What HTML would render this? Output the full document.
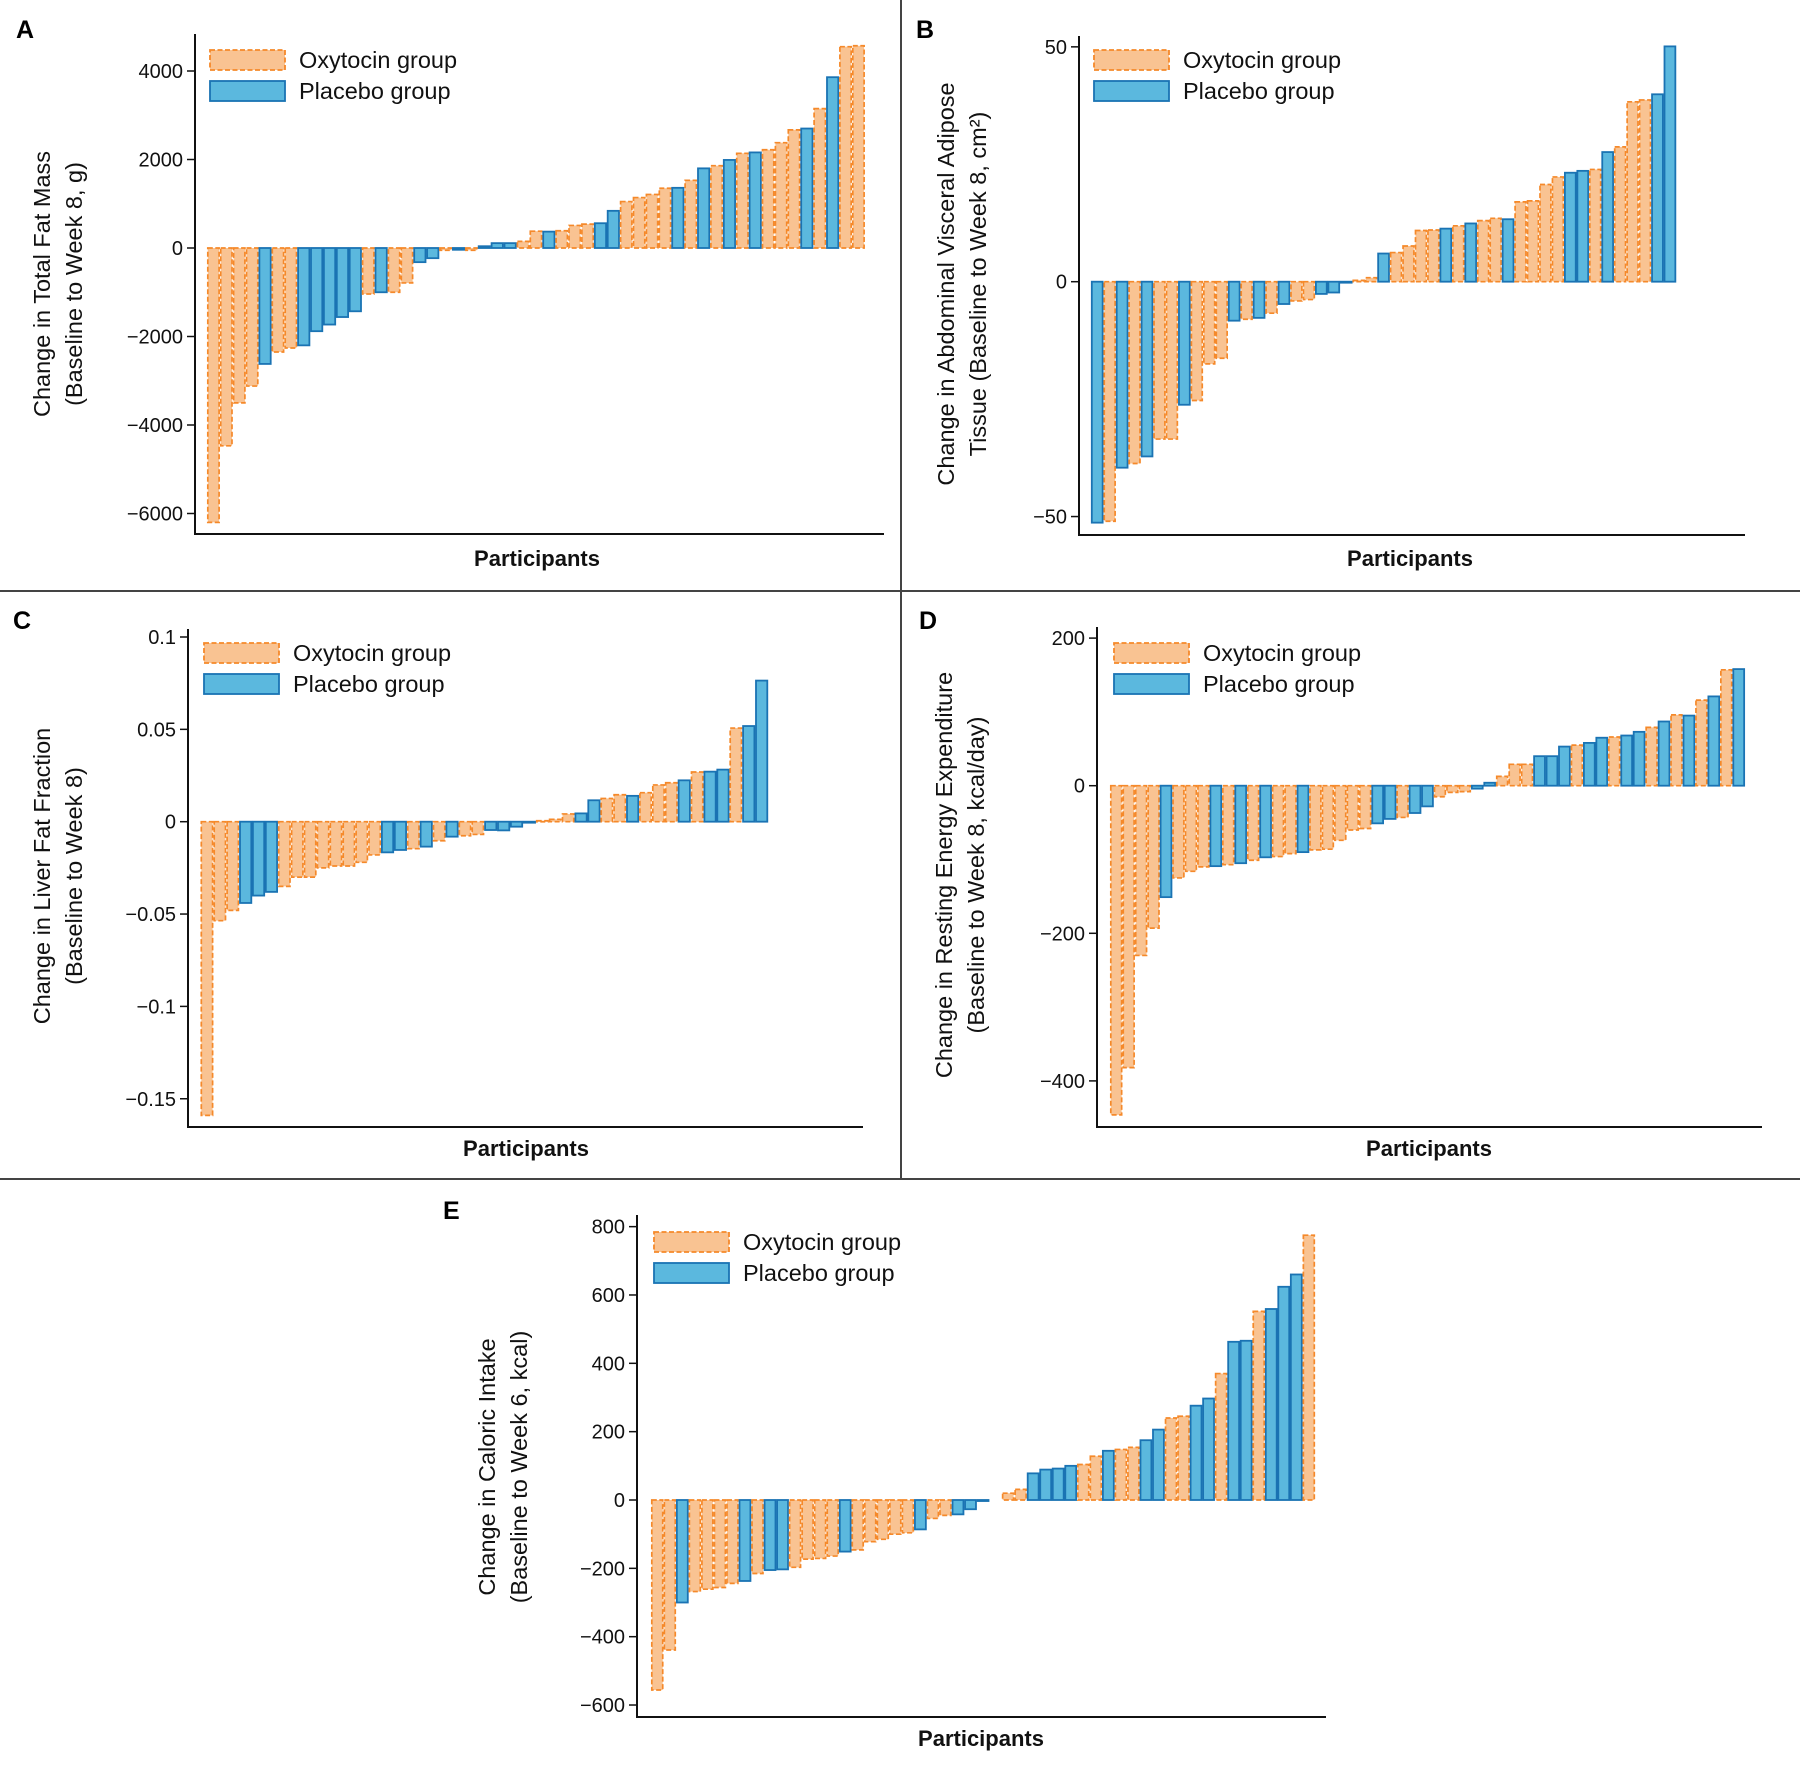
<!DOCTYPE html>
<html><head><meta charset="utf-8">
<style>
html,body{margin:0;padding:0;background:#fff;}
svg{display:block;font-family:"Liberation Sans",sans-serif;}
</style></head>
<body>
<svg id="fig" width="1800" height="1787" viewBox="0 0 1800 1787" xmlns="http://www.w3.org/2000/svg">
<rect width="1800" height="1787" fill="#fff"/>
<line x1="901" y1="0" x2="901" y2="1179" stroke="#444" stroke-width="2"/>
<line x1="0" y1="591" x2="1800" y2="591" stroke="#444" stroke-width="2"/>
<line x1="0" y1="1179" x2="1800" y2="1179" stroke="#444" stroke-width="2"/>
<text x="16" y="38" font-size="25" font-weight="bold">A</text>
<text x="916" y="38" font-size="25" font-weight="bold">B</text>
<text x="13" y="629" font-size="25" font-weight="bold">C</text>
<text x="919" y="629" font-size="25" font-weight="bold">D</text>
<text x="443" y="1219" font-size="25" font-weight="bold">E</text>
</svg>
<script>
// Panel A: total fat mass (g)
const aGroups = ["O","O","O","O","P","O","O","P","P","P","P","P","O","P","O","O","P","P","O","P","O","P","P","P","O","O","P","O","O","O","P","P","O","O","O","O","P","O","P","O","P","O","P","O","O","O","P","O","P","O","O"];
const aValues = [-6200,-4470,-3500,-3120,-2620,-2350,-2260,-2200,-1880,-1730,-1560,-1430,-1040,-1000,-1000,-790,-320,-230,-50,-40,-50,40,110,110,150,380,370,390,510,540,560,840,1050,1140,1210,1350,1360,1530,1800,1860,1990,2140,2160,2220,2380,2670,2700,3150,3860,4550,4570];
const aTicks = [4000,2000,0,-2000,-4000,-6000];
const aTickLabels = ["4000","2000","0","\u22122000","\u22124000","\u22126000"];
// Panel B: visceral adipose tissue (cm2)
const bGroups = ["P","O","P","O","P","O","O","P","O","O","O","P","O","P","O","P","O","O","P","P","P","O","O","P","O","O","O","O","P","O","P","O","O","P","O","O","O","O","P","P","O","P","O","O","O","P","P"];
const bValues = [-51.3,-51,-39.6,-38.7,-37.2,-33.5,-33.5,-26.2,-25.3,-17.5,-16.3,-8.3,-8,-7.7,-6.7,-4.75,-4.1,-3.8,-2.6,-2.3,-0.2,0.3,0.85,6,6.2,7.6,10.9,11,11.3,11.9,12.4,13,13.5,13.3,17,17.2,20.7,22.3,23.2,23.6,23.9,27.6,28.7,38.3,38.7,39.9,50.1];
const bTicks = [50,0,-50];
const bTickLabels = ["50","0","\u221250"];
// Panel C: liver fat fraction
const cGroups = ["O","O","O","P","P","P","O","O","O","O","O","O","O","O","P","P","O","P","O","P","O","O","P","P","P","P","O","O","O","P","P","O","O","P","O","O","O","P","O","P","P","O","P","P"];
const cValues = [-0.159,-0.0536,-0.048,-0.044,-0.040,-0.038,-0.035,-0.030,-0.030,-0.025,-0.024,-0.024,-0.022,-0.018,-0.0166,-0.0153,-0.0146,-0.0135,-0.0103,-0.0081,-0.0076,-0.0069,-0.0045,-0.0047,-0.0027,-0.0005,0.0005,0.0013,0.0042,0.0045,0.0116,0.0126,0.0146,0.014,0.0157,0.0199,0.0211,0.0224,0.0269,0.0271,0.0282,0.0507,0.0518,0.0764];
const cTicks = [0.1,0.05,0,-0.05,-0.1,-0.15];
const cTickLabels = ["0.1","0.05","0","\u22120.05","\u22120.1","\u22120.15"];
// Panel D: resting energy expenditure (kcal/day)
const dGroups = ["O","O","O","O","P","O","O","O","P","O","P","O","P","O","O","P","O","O","O","O","O","P","P","O","P","P","O","O","O","P","P","O","O","O","P","P","P","O","P","P","O","P","P","O","P","O","P","O","P","O","P"];
const dValues = [-446,-382,-230,-193,-151,-125,-116,-110,-109,-107,-105,-101,-97,-96,-92,-90,-87,-86,-74,-60,-58,-51,-45,-43,-37,-28,-15,-9,-8,-4,4,12.6,29,29,40,40,53,55,58,65,66,68,73,79,87,96,95,116,121,157,158];
const dTicks = [200,0,-200,-400];
const dTickLabels = ["200","0","\u2212200","\u2212400"];
// Panel E: caloric intake (kcal)
const eGroups = ["O","O","P","O","O","O","O","P","O","P","P","O","O","O","O","P","O","O","O","O","O","P","O","O","P","P","P","O","O","O","P","P","P","P","O","O","P","O","O","P","P","O","O","P","P","O","P","P","O","P","P","P","O"];
const eValues = [-556,-439,-300,-268,-261,-256,-244,-237,-215,-205,-203,-197,-173,-171,-164,-151,-146,-122,-115,-100,-96,-86,-54,-45,-42,-27,-3,0,20,31,78,89,92,100,104,128,144,148,154,175,206,240,245,276,297,370,463,466,552,559,624,660,775];
const eTicks = [800,600,400,200,0,-200,-400,-600];
const eTickLabels = ["800","600","400","200","0","\u2212200","\u2212400","\u2212600"];

const NS = "http://www.w3.org/2000/svg";
const svg = document.getElementById("fig");
function mk(tag, attrs, parent) {
  const el = document.createElementNS(NS, tag);
  for (const k in attrs) el.setAttribute(k, attrs[k]);
  (parent || svg).appendChild(el);
  return el;
}

function drawPanel(p) {
  const g = mk("g", {});
  
  
  const yScale = v => p.zeroY - v * p.k;
  const xScale = i => p.barX0 + i * p.barW;
  for (let i = 0; i < p.values.length; i++) {
    const v = p.values[i];
    if (v === 0) continue;
    const y1 = yScale(v);
    const isO = p.groups[i] === "O";
    const r = mk("rect", {
      x: xScale(i) + 0.8, y: Math.min(y1, p.zeroY),
      width: p.barW - 1.6, height: Math.max(Math.abs(y1 - p.zeroY), 1),
      fill: isO ? "#f9c392" : "#5bb8de",
      stroke: isO ? "#f5892a" : "#1a73b3",
      "stroke-width": isO ? 1.7 : 1.8
    }, g);
    if (isO) r.setAttribute("stroke-dasharray", "5,2.5");
    
    
  }
  const ya = mk("line", {x1: p.axisX, y1: p.axisTop, x2: p.axisX, y2: p.axisBottom, stroke: "#111", "stroke-width": 2}, g);
  
  
  const xa = mk("line", {x1: p.axisX - 1, y1: p.axisBottom, x2: p.axisRight, y2: p.axisBottom, stroke: "#111", "stroke-width": 2}, g);
  
  
  for (let j = 0; j < p.ticks.length; j++) {
    const ty = yScale(p.ticks[j]);
    const tl = mk("line", {x1: p.axisX - 8, y1: ty, x2: p.axisX, y2: ty, stroke: "#111", "stroke-width": 1.5}, g);
    
    
    const tx = mk("text", {x: p.axisX - 12, y: ty + 7, "font-size": 20, "text-anchor": "end", fill: "#111"}, g);
    tx.textContent = p.tickLabels[j];
    
    
  }
  const t = mk("text", {transform: "translate(" + p.titleX + "," + p.titleY + ") rotate(-90)", "font-size": 23.5, "text-anchor": "middle", fill: "#111"}, g);
  
  
  const s1 = mk("tspan", {x: 0, y: 0}, t); s1.textContent = p.title1;
  const s2 = mk("tspan", {x: 0, y: 32}, t); s2.textContent = p.title2;
  const xt = mk("text", {x: p.partX, y: p.partY, "font-size": 22, "font-weight": "bold", "text-anchor": "middle", fill: "#111"}, g);
  xt.textContent = "Participants";
  
  
  const lg = mk("g", {}, g);
  
  
  const r1 = mk("rect", {x: p.legX, y: p.legY, width: 75, height: 20, fill: "#f9c392", stroke: "#f5892a", "stroke-width": 1.8, "stroke-dasharray": "5,2.5"}, lg);
  
  
  const l1 = mk("text", {x: p.legX + 89, y: p.legY + 18, "font-size": 23.5, fill: "#111"}, lg);
  l1.textContent = "Oxytocin group";
  
  
  const r2 = mk("rect", {x: p.legX, y: p.legY + 31, width: 75, height: 20, fill: "#5bb8de", stroke: "#1a73b3", "stroke-width": 1.8}, lg);
  
  
  const l2 = mk("text", {x: p.legX + 89, y: p.legY + 49, "font-size": 23.5, fill: "#111"}, lg);
  l2.textContent = "Placebo group";
  
  
}

drawPanel({name: "panel-a-fat-mass", groups: aGroups, values: aValues, ticks: aTicks, tickLabels: aTickLabels,
  zeroY: 248, k: 177 / 4000, barX0: 207, barW: 12.9, axisX: 195, axisTop: 34, axisBottom: 534, axisRight: 884,
  titleX: 50, titleY: 284, title1: "Change in Total Fat Mass", title2: "(Baseline to Week 8, g)",
  partX: 537, partY: 566, legX: 210, legY: 50});
drawPanel({name: "panel-b-visceral-adipose", groups: bGroups, values: bValues, ticks: bTicks, tickLabels: bTickLabels,
  zeroY: 281.7, k: 4.697, barX0: 1091, barW: 12.45, axisX: 1079, axisTop: 36, axisBottom: 535, axisRight: 1745,
  titleX: 954, titleY: 284, title1: "Change in Abdominal Visceral Adipose", title2: "Tissue (Baseline to Week 8, cm\u00B2)",
  partX: 1410, partY: 566, legX: 1094, legY: 50});
drawPanel({name: "panel-c-liver-fat", groups: cGroups, values: cValues, ticks: cTicks, tickLabels: cTickLabels,
  zeroY: 821.7, k: 1847, barX0: 200.5, barW: 12.9, axisX: 188, axisTop: 629, axisBottom: 1127, axisRight: 863,
  titleX: 50, titleY: 876, title1: "Change in Liver Fat Fraction", title2: "(Baseline to Week 8)",
  partX: 526, partY: 1156, legX: 204, legY: 643});
drawPanel({name: "panel-d-energy-expenditure", groups: dGroups, values: dValues, ticks: dTicks, tickLabels: dTickLabels,
  zeroY: 785.7, k: 0.738, barX0: 1110, barW: 12.45, axisX: 1097, axisTop: 627, axisBottom: 1127, axisRight: 1762,
  titleX: 952, titleY: 875, title1: "Change in Resting Energy Expenditure", title2: "(Baseline to Week 8, kcal/day)",
  partX: 1429, partY: 1156, legX: 1114, legY: 643});
drawPanel({name: "panel-e-caloric-intake", groups: eGroups, values: eValues, ticks: eTicks, tickLabels: eTickLabels,
  zeroY: 1500, k: 0.3417, barX0: 651, barW: 12.53, axisX: 637, axisTop: 1215, axisBottom: 1717, axisRight: 1326,
  titleX: 495, titleY: 1467, title1: "Change in Caloric Intake", title2: "(Baseline to Week 6, kcal)",
  partX: 981, partY: 1746, legX: 654, legY: 1232});
</script>
</body></html>
